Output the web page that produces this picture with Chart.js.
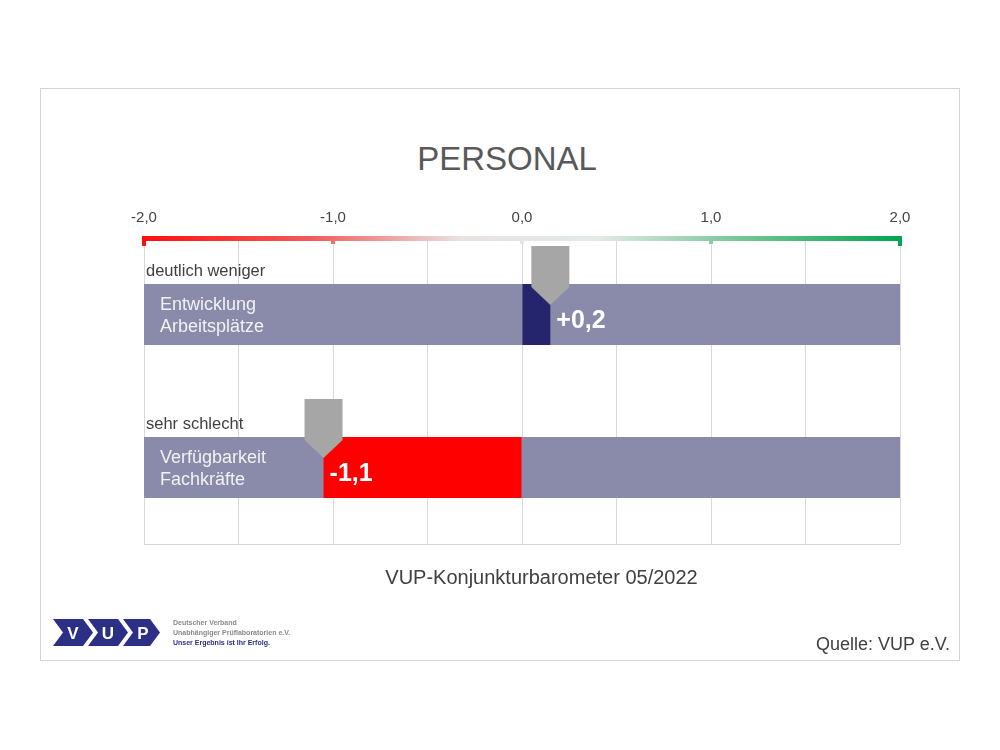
<!DOCTYPE html>
<html>
<head>
<meta charset="utf-8">
<script src="https://cdn.jsdelivr.net/npm/chart.js@4.4.0/dist/chart.umd.min.js"></script>
<style>
  body { margin: 0; background: #fff; font-family: 'Liberation Sans', Arial, sans-serif; }
  #page { position: relative; width: 1000px; height: 750px; }
  #frame { position: absolute; left: 40px; top: 88px; width: 918px; height: 571px; border: 1px solid #d4d4d4; }
  #chart { position: absolute; left: 0; top: 0; }
  .txt { position: absolute; white-space: nowrap; color: #404040; }
  #title { left: 0; width: 1014px; top: 140px; text-align: center; font-size: 33px; color: #595959; }
  #subtitle { left: 0; width: 1083px; top: 566px; text-align: center; font-size: 20px; }
  #source { right: 50px; top: 634px; font-size: 18px; }
  #logo { position: absolute; left: 52px; top: 617px; }
  .small { position: absolute; left: 173px; font-size: 7px; color: #8a8a8a; font-weight: bold; }
</style>
</head>
<body>
<div id="page">
  <div id="frame"></div>
  <div id="title" class="txt">PERSONAL</div>
  <canvas id="chart" width="1000" height="750"></canvas>
  <div id="subtitle" class="txt">VUP-Konjunkturbarometer 05/2022</div>
  <div id="source" class="txt">Quelle: VUP e.V.</div>
  <svg id="logo" width="115" height="32" viewBox="0 0 115 32">
    <polygon points="1,2 31,2 41,15.5 31,29 1,29 11,15.5" fill="#2b2f86"/>
    <polygon points="36,2 66,2 76,15.5 66,29 36,29 46,15.5" fill="#2b2f86"/>
    <polygon points="71,2 98,2 108,15.5 98,29 71,29 81,15.5" fill="#2b2f86"/>
    <text x="21" y="22" fill="#fff" font-size="17" font-weight="bold" text-anchor="middle" font-family="Liberation Sans, Arial">V</text>
    <text x="56" y="22" fill="#fff" font-size="17" font-weight="bold" text-anchor="middle" font-family="Liberation Sans, Arial">U</text>
    <text x="91" y="22" fill="#fff" font-size="17" font-weight="bold" text-anchor="middle" font-family="Liberation Sans, Arial">P</text>
  </svg>
  <div class="small" style="top:619px">Deutscher Verband</div>
  <div class="small" style="top:629px">Unabhängiger Prüflaboratorien e.V.</div>
  <div class="small" style="top:639px; color:#2b2f86">Unser Ergebnis ist Ihr Erfolg.</div>
</div>
<script>
// Kennzahlen
const categories = ['Entwicklung Arbeitsplätze', 'Verfügbarkeit Fachkräfte'];
const barLines = [['Entwicklung', 'Arbeitsplätze'], ['Verfügbarkeit', 'Fachkräfte']];
const ratings = ['deutlich weniger', 'sehr schlecht'];
const values = [0.15, -1.05];
const valueLabels = ['+0,2', '-1,1'];
const valueColors = ['#25256e', '#ff0000'];
const scaleMin = -2;
const scaleMax = 2;
const xTicks = [-2, -1, 0, 1, 2];
const xTickLabels = ['-2,0', '-1,0', '0,0', '1,0', '2,0'];

const barBackground = '#8a8aab';

// Zeichnet Farbskala, Rahmen, Marker und Texte
const decorations = {
    id: 'decorations',
    afterDatasetsDraw(chart) {
        const { ctx, chartArea, scales } = chart;
        const x = scales.x;
        const y = scales.y;
        ctx.save();

        // unterer Rahmen
        ctx.strokeStyle = '#d4d4d4';
        ctx.lineWidth = 1;
        ctx.beginPath();
        ctx.moveTo(chartArea.left, chartArea.bottom + 0.5);
        ctx.lineTo(chartArea.right, chartArea.bottom + 0.5);
        ctx.stroke();

        // Farbverlauf oben
        const grad = ctx.createLinearGradient(chartArea.left, 0, chartArea.right, 0);
        grad.addColorStop(0, '#ff1010');
        grad.addColorStop(0.22, '#f25a5a');
        grad.addColorStop(0.42, '#e9e3e3');
        grad.addColorStop(0.5, '#e6e6e6');
        grad.addColorStop(0.6, '#e3ebe6');
        grad.addColorStop(0.78, '#7cc79a');
        grad.addColorStop(1, '#00a550');
        const gy = chartArea.top;
        ctx.fillStyle = grad;
        ctx.fillRect(chartArea.left - 2, gy - 2, chartArea.right - chartArea.left + 4, 5);
        xTicks.forEach(t => {
            const px = x.getPixelForValue(t);
            const big = t === scaleMin || t === scaleMax;
            ctx.fillRect(px - 2, gy, 4, big ? 8 : 6);
        });

        const meta = chart.getDatasetMeta(1);
        meta.data.forEach((bar, i) => {
            const cy = y.getPixelForValue(i);
            const half = bar.height / 2;
            const top = cy - half;
            const vx = x.getPixelForValue(values[i]);

            // Rating über dem Balken
            ctx.fillStyle = '#404040';
            ctx.font = '16.5px "Liberation Sans", Arial';
            ctx.textAlign = 'left';
            ctx.textBaseline = 'middle';
            ctx.fillText(ratings[i], chartArea.left + 2, top - 12);

            // Beschriftung im Balken
            ctx.fillStyle = '#f2f2f2';
            ctx.font = '18px "Liberation Sans", Arial';
            ctx.fillText(barLines[i][0], chartArea.left + 16, cy - 9);
            ctx.fillText(barLines[i][1], chartArea.left + 16, cy + 13);

            // Marker
            ctx.fillStyle = '#a6a6a6';
            ctx.beginPath();
            ctx.moveTo(vx - 19, top - 38);
            ctx.lineTo(vx + 19, top - 38);
            ctx.lineTo(vx + 19, top + 3);
            ctx.lineTo(vx, top + 21);
            ctx.lineTo(vx - 19, top + 3);
            ctx.closePath();
            ctx.fill();

            // Wert
            ctx.fillStyle = '#ffffff';
            ctx.font = 'bold 25px "Liberation Sans", Arial';
            ctx.fillText(valueLabels[i], vx + 6, cy + 7);
        });
        ctx.restore();
    }
};

new Chart(document.getElementById('chart'), {
    type: 'bar',
    data: {
        labels: categories,
        datasets: [{
            label: 'Wert',
            data: values.map(v => [Math.min(0, v), Math.max(0, v)]),
            backgroundColor: valueColors,
            grouped: false,
            order: 0,
            categoryPercentage: 1,
            barPercentage: 0.4
        }, {
            label: 'Skala',
            data: categories.map(() => [scaleMin, scaleMax]),
            backgroundColor: barBackground,
            grouped: false,
            order: 1,
            categoryPercentage: 1,
            barPercentage: 0.4
        }]
    },
    options: {
        indexAxis: 'y',
        responsive: false,
        animation: false,
        layout: {
            padding: { left: 144, right: 100, top: 198, bottom: 206 }
        },
        plugins: {
            legend: { display: false },
            tooltip: { enabled: false }
        },
        scales: {
            x: {
                position: 'top',
                min: scaleMin,
                max: scaleMax,
                border: { display: false },
                grid: { color: '#d9d9d9', drawTicks: false },
                ticks: {
                    stepSize: 0.5,
                    padding: 11,
                    color: '#444',
                    font: { size: 15, family: '"Liberation Sans", Arial' },
                    callback: v => {
                        const i = xTicks.indexOf(v);
                        return i >= 0 ? xTickLabels[i] : '';
                    }
                }
            },
            y: {
                display: false
            }
        }
    },
    plugins: [decorations]
});
</script>
</body>
</html>
